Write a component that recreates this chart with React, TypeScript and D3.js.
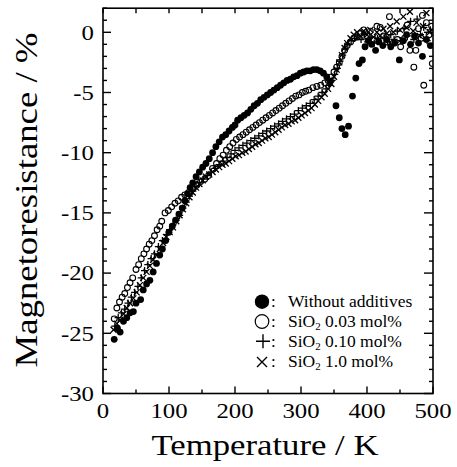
import React, { useEffect, useRef } from 'react';
import * as d3 from 'd3';

const W = 457;
const H = 467;

// [temperature K, magnetoresistance %]
const withoutAdditives: [number, number][] = [
  [17,-25.5],[22,-24.6],[26,-24.9],[31,-24.0],[36,-23.7],[41,-23.3],[46,-23.2],[50,-22.5],[57,-22.2],[61,-21.4],
  [66,-20.9],[71,-20.6],[76,-19.9],[81,-19.2],[86,-18.5],[90,-18.0],[95,-17.3],[100,-16.6],[105,-16.1],[110,-15.6],
  [115,-15.1],[120,-14.6],[124,-14.0],[128,-13.4],[132,-12.9],[136,-12.5],[141,-12.0],[146,-11.6],[151,-11.2],[156,-10.9],
  [161,-10.5],[166,-10.0],[171,-9.5],[176,-9.1],[181,-8.7],[186,-8.5],[191,-8.2],[196,-7.9],[200,-7.7],[204,-7.3],
  [209,-7.1],[214,-6.9],[219,-6.7],[224,-6.4],[229,-6.1],[234,-5.9],[239,-5.6],[244,-5.4],[249,-5.2],[254,-5.0],
  [259,-4.8],[264,-4.6],[269,-4.4],[274,-4.2],[279,-4.0],[284,-3.9],[289,-3.7],[294,-3.6],[299,-3.4],[304,-3.3],
  [309,-3.2],[314,-3.2],[319,-3.1],[324,-3.1],[329,-3.2],[334,-3.4],[339,-3.7],[344,-4.1],[353,-6.1],[358,-7.1],
  [362,-8.0],[367,-8.5],[372,-7.8],[378,-5.3],[383,-3.8],[388,-2.6],[393,-2.3],[397,-1.2],[402,-0.7],[407,-1.0],
  [413,-1.5],[418,-0.8],[424,-1.1],[430,-0.6],[436,-1.2],[442,-0.9],[449,-2.3],[455,-0.7],[460,-0.2],[466,-1.0],
  [472,-0.3],[478,-0.9],[484,-2.0],[490,-0.6],[496,-1.1]
];

const sio2_003: [number, number][] = [
  [17,-23.8],[21,-22.9],[25,-22.4],[29,-22.0],[33,-21.7],[37,-21.2],[41,-20.8],[45,-20.4],[50,-19.7],[54,-19.3],
  [58,-18.8],[62,-18.4],[66,-18.0],[70,-17.6],[74,-17.3],[78,-16.9],[82,-16.4],[86,-16.1],[89,-15.7],[94,-15.0],
  [99,-14.8],[104,-14.5],[109,-14.2],[114,-14.0],[119,-13.7],[124,-13.5],[130,-13.3],[136,-13.0],[142,-12.7],[148,-12.4],
  [154,-12.2],[160,-11.9],[166,-11.3],[172,-10.9],[177,-10.5],[182,-10.2],[187,-9.8],[192,-9.5],[197,-9.2],[202,-8.9],
  [207,-8.7],[212,-8.5],[217,-8.3],[222,-8.1],[227,-7.9],[232,-7.7],[237,-7.5],[242,-7.3],[247,-7.1],[252,-6.9],
  [257,-6.7],[262,-6.5],[267,-6.3],[272,-6.1],[277,-5.9],[282,-5.7],[287,-5.5],[292,-5.3],[297,-5.2],[302,-5.0],
  [307,-4.9],[312,-4.8],[318,-4.6],[324,-4.5],[330,-4.4],[336,-4.2],[341,-4.0],[346,-3.7],[350,-3.3],[354,-2.9],
  [358,-2.5],[362,-2.0],[366,-1.5],[370,-1.1],[375,-0.8],[380,-0.5],[385,-0.4],[390,-0.1],[395,0.2],[400,-0.3],
  [405,0.1],[410,-0.6],[415,0.5],[420,0.4],[425,-0.3],[430,-0.8],[434,1.3],[440,-0.9],[446,-0.6],[451,-1.2],
  [457,-0.5],[461,0.6],[465,-1.5],[471,-2.9],[474,-1.5],[478,0.3],[482,-0.5],[484,1.4],[486,-4.4],[490,0.8],
  [494,-0.2],[498,0.5],[499,-2.6]
];

const sio2_010: [number, number][] = [
  [18,-24.4],[23,-23.7],[28,-23.3],[33,-23.0],[38,-22.5],[43,-22.0],[48,-21.6],[53,-21.1],[58,-20.4],[63,-19.8],
  [68,-19.3],[73,-18.8],[78,-18.4],[84,-17.8],[90,-17.3],[96,-16.8],[101,-16.4],[106,-16.0],[111,-15.6],[116,-15.2],
  [121,-14.6],[126,-14.1],[131,-13.6],[136,-13.2],[141,-12.8],[146,-12.5],[152,-12.2],[158,-11.9],[164,-11.6],[170,-11.3],
  [176,-11.0],[182,-10.7],[188,-10.4],[194,-10.1],[200,-9.8],[206,-9.6],[212,-9.4],[218,-9.2],[224,-9.0],[230,-8.8],
  [236,-8.6],[242,-8.4],[248,-8.2],[254,-8.0],[260,-7.8],[266,-7.6],[272,-7.4],[278,-7.2],[284,-7.0],[290,-6.8],
  [296,-6.5],[302,-6.3],[308,-6.1],[314,-5.9],[320,-5.6],[326,-5.3],[332,-5.0],[338,-4.7],[343,-4.4],[347,-4.0],
  [351,-3.5],[355,-3.0],[359,-2.4],[363,-1.9],[367,-1.4],[371,-1.0],[376,-0.7],[381,-0.5],[386,-0.3],[391,-0.6],
  [396,-0.2],[401,-0.8],[406,-0.4],[411,-0.9],[416,-0.5],[421,-1.0],[426,-0.4],[431,-0.8],[436,-0.2],[441,-0.6],
  [446,0.1],[451,-0.7],[456,0.3],[461,-0.3],[466,0.9],[471,-0.6],[476,1.1],[481,-0.2],[486,0.4],[491,-0.7],[496,0.2]
];

const sio2_100: [number, number][] = [
  [16,-24.7],[21,-24.2],[26,-23.9],[31,-23.4],[36,-22.9],[41,-22.5],[46,-22.1],[51,-21.6],[56,-21.0],[61,-20.4],
  [66,-19.9],[71,-19.4],[76,-18.9],[81,-18.5],[86,-18.0],[91,-17.5],[96,-17.0],[101,-16.6],[106,-16.2],[111,-15.7],
  [116,-15.2],[121,-14.7],[126,-14.2],[131,-13.7],[136,-13.3],[141,-12.9],[146,-12.6],[151,-12.3],[156,-12.0],[161,-11.8],
  [166,-11.6],[171,-11.4],[176,-11.2],[181,-11.0],[186,-10.9],[191,-10.7],[196,-10.5],[201,-10.3],[206,-10.2],[211,-10.0],
  [216,-9.9],[221,-9.7],[226,-9.5],[231,-9.3],[236,-9.2],[241,-9.0],[246,-8.8],[251,-8.7],[256,-8.5],[261,-8.3],
  [266,-8.1],[271,-7.9],[276,-7.7],[281,-7.6],[286,-7.4],[291,-7.3],[296,-7.1],[301,-6.9],[306,-6.7],[311,-6.5],
  [316,-6.3],[321,-6.0],[326,-5.7],[331,-5.4],[336,-5.1],[341,-4.7],[346,-4.3],[350,-3.7],[354,-3.1],[358,-2.5],
  [362,-1.9],[366,-1.3],[370,-0.9],[375,-0.5],[380,-0.2],[385,0.0],[390,-0.3],[395,0.1],[400,-0.2],[405,0.2],
  [410,-0.4],[415,0.0],[420,-0.3],[425,0.3],[430,-0.1],[435,0.5],[440,0.0],[445,0.9],[450,0.2],[455,1.3],
  [460,0.4],[465,1.7],[470,0.1],[475,0.8],[480,-0.3],[485,0.5],[490,1.6],[495,0.0]
];

const xTicks = [0, 100, 200, 300, 400, 500];
const yTicks = [0, -5, -10, -15, -20, -25, -30];

const legendItems = [
  { marker: 'filled', pre: 'Without additives', sub: '', post: '' },
  { marker: 'open', pre: 'SiO', sub: '2', post: ' 0.03 mol%' },
  { marker: 'plus', pre: 'SiO', sub: '2', post: ' 0.10 mol%' },
  { marker: 'cross', pre: 'SiO', sub: '2', post: ' 1.0 mol%' },
];

const FONT = 'Liberation Serif';

const App = () => {
  const ref = useRef<SVGSVGElement>(null);

  // plot frame
  const left = 103, right = 433, top = 8.2, bottom = 393.5;

  useEffect(() => {
    const svg = d3.select(ref.current);
    svg.selectAll('*').remove();

    const x = d3.scaleLinear().domain([0, 500]).range([left, right]);
    const y = d3.scaleLinear().domain([-30, 2]).range([bottom, top]);

    svg.append('defs').append('clipPath').attr('id', 'plotclip')
      .append('rect')
      .attr('x', left).attr('y', top)
      .attr('width', right - left).attr('height', bottom - top);

    const g = svg.append('g').attr('clip-path', 'url(#plotclip)');

    const plusPath = (cx: number, cy: number, s: number) =>
      `M${cx - s},${cy}h${2 * s}M${cx},${cy - s}v${2 * s}`;
    const crossPath = (cx: number, cy: number, s: number) =>
      `M${cx - s},${cy - s}L${cx + s},${cy + s}M${cx - s},${cy + s}L${cx + s},${cy - s}`;

    // x: SiO2 1.0 mol%
    g.selectAll('.cross').data(sio2_100).enter().append('path')
      .attr('d', d => crossPath(x(d[0]), y(d[1]), 3))
      .attr('stroke', '#000').attr('stroke-width', 1.3).attr('fill', 'none');

    // +: SiO2 0.10 mol%
    g.selectAll('.plus').data(sio2_010).enter().append('path')
      .attr('d', d => plusPath(x(d[0]), y(d[1]), 3.6))
      .attr('stroke', '#000').attr('stroke-width', 1.3).attr('fill', 'none');

    // open: SiO2 0.03 mol%
    g.selectAll('.open').data(sio2_003).enter().append('circle')
      .attr('cx', d => x(d[0])).attr('cy', d => y(d[1])).attr('r', 2.9)
      .attr('stroke', '#000').attr('stroke-width', 1.1).attr('fill', 'none');

    // filled: without additives
    g.selectAll('.filled').data(withoutAdditives).enter().append('circle')
      .attr('cx', d => x(d[0])).attr('cy', d => y(d[1])).attr('r', 3.4)
      .attr('fill', '#000');

    // frame
    svg.append('rect')
      .attr('x', left).attr('y', top)
      .attr('width', right - left).attr('height', bottom - top)
      .attr('fill', 'none').attr('stroke', '#000').attr('stroke-width', 1.6);

    const ticks = svg.append('g').attr('stroke', '#000').attr('stroke-width', 1.4);

    // x ticks (inward), every 50
    d3.range(0, 501, 50).forEach(t => {
      const major = t % 100 === 0;
      ticks.append('line')
        .attr('x1', x(t)).attr('x2', x(t))
        .attr('y1', bottom).attr('y2', bottom - (major ? 7 : 4));
      ticks.append('line')
        .attr('x1', x(t)).attr('x2', x(t))
        .attr('y1', top).attr('y2', top + 5);
    });

    // y ticks (inward), every 1
    d3.range(-30, 3, 1).forEach(v => {
      const major = v % 5 === 0;
      ticks.append('line')
        .attr('x1', left).attr('x2', left + (major ? 8 : 4))
        .attr('y1', y(v)).attr('y2', y(v));
      ticks.append('line')
        .attr('x1', right).attr('x2', right - (major ? 9 : 4))
        .attr('y1', y(v)).attr('y2', y(v));
    });

    // tick labels
    xTicks.forEach(t => {
      svg.append('text')
        .attr('transform', `translate(${x(t)},${418}) scale(1.18,1)`)
        .attr('text-anchor', 'middle')
        .attr('font-family', FONT).attr('font-size', 21)
        .attr('fill', '#000')
        .text(String(t));
    });
    yTicks.forEach(v => {
      svg.append('text')
        .attr('transform', `translate(${94},${y(v) + 7.3}) scale(1.18,1)`)
        .attr('text-anchor', 'end')
        .attr('font-family', FONT).attr('font-size', 21)
        .attr('fill', '#000')
        .text(String(v));
    });

    // axis titles
    svg.append('text')
      .attr('x', 265).attr('y', 455)
      .attr('text-anchor', 'middle')
      .attr('textLength', 227).attr('lengthAdjust', 'spacingAndGlyphs')
      .attr('font-family', FONT).attr('font-size', 30)
      .attr('fill', '#000')
      .text('Temperature / K');

    svg.append('text')
      .attr('transform', `translate(${37},${200}) rotate(-90)`)
      .attr('text-anchor', 'middle')
      .attr('textLength', 335).attr('lengthAdjust', 'spacingAndGlyphs')
      .attr('font-family', FONT).attr('font-size', 32)
      .attr('fill', '#000')
      .text('Magnetoresistance / %');

    // legend
    const legend = svg.append('g');
    legendItems.forEach((item, i) => {
      const cy = 301.7 + i * 19.8;
      const mx = 262;
      if (item.marker === 'filled') {
        legend.append('circle').attr('cx', mx).attr('cy', cy).attr('r', 7.2).attr('fill', '#000');
      } else if (item.marker === 'open') {
        legend.append('circle').attr('cx', mx).attr('cy', cy).attr('r', 6.8)
          .attr('fill', 'none').attr('stroke', '#000').attr('stroke-width', 1.2);
      } else if (item.marker === 'plus') {
        legend.append('path').attr('d', plusPath(mx + 1, cy, 7))
          .attr('stroke', '#000').attr('stroke-width', 1.4).attr('fill', 'none');
      } else {
        legend.append('path').attr('d', crossPath(mx, cy + 1, 5))
          .attr('stroke', '#000').attr('stroke-width', 1.4).attr('fill', 'none');
      }
      legend.append('text')
        .attr('x', 271).attr('y', cy + 5.5)
        .attr('font-family', FONT).attr('font-size', 17)
        .attr('fill', '#000')
        .text(':');
      const txt = legend.append('text')
        .attr('x', 288).attr('y', cy + 5.5)
        .attr('font-family', FONT).attr('font-size', 17.5)
        .attr('fill', '#000');
      txt.append('tspan').text(item.pre);
      if (item.sub) {
        txt.append('tspan').attr('dy', 3).attr('font-size', 11).text(item.sub);
        txt.append('tspan').attr('dy', -3).text(item.post);
      }
    });
  }, []);

  return (
    <svg
      ref={ref}
      width={W}
      height={H}
      style={{ position: 'absolute', left: 0, top: 0, background: '#fff' }}
    />
  );
};

export default App;
